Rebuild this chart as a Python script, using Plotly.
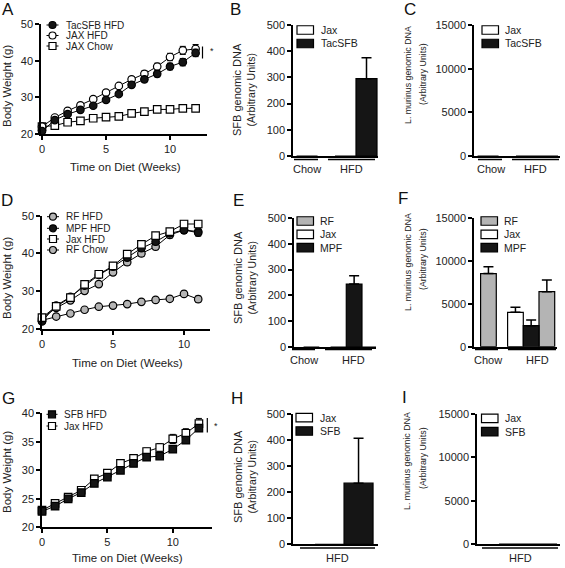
import plotly.graph_objects as go

# ---------------- data ----------------
# Panel A: body weight (g) vs weeks on diet
weeks_A = [0, 1, 2, 3, 4, 5, 6, 7, 8, 9, 10, 11, 12]
A_tacsfb_hfd = [20.8, 23.8, 25.4, 26.6, 27.7, 29.3, 30.9, 33.4, 34.9, 36.4, 38.4, 39.6, 42.1]
A_tacsfb_hfd_err = [0.4, 0.5, 0.5, 0.5, 0.5, 0.6, 0.6, 0.6, 0.7, 0.8, 0.9, 1.0, 1.0]
A_jax_hfd = [22.0, 24.5, 26.3, 27.8, 29.5, 31.3, 33.1, 34.9, 36.4, 38.4, 41.0, 42.8, 43.2]
A_jax_hfd_err = [0.4, 0.5, 0.5, 0.6, 0.6, 0.6, 0.7, 0.7, 0.8, 0.9, 1.0, 1.1, 1.2]
A_jax_chow = [22.0, 22.3, 23.2, 23.6, 24.3, 24.6, 24.8, 25.6, 26.1, 26.7, 26.7, 27.0, 27.0]
A_jax_chow_err = [0.3, 0.3, 0.3, 0.3, 0.3, 0.3, 0.3, 0.3, 0.4, 0.4, 0.4, 0.4, 0.4]
A_names = ["TacSFB HFD", "JAX HFD", "JAX Chow"]

# Panel D
weeks_D = [0, 1, 2, 3, 4, 5, 6, 7, 8, 9, 10, 11]
D_rf_hfd = [22.8, 25.6, 27.6, 30.1, 31.9, 35.0, 37.7, 40.0, 41.8, 44.9, 46.2, 45.8]
D_mpf_hfd = [22.0, 26.2, 28.5, 31.5, 34.3, 36.5, 38.9, 41.4, 43.1, 45.3, 46.2, 45.5]
D_jax_hfd = [23.0, 26.0, 28.3, 31.8, 34.5, 36.7, 39.8, 42.4, 44.7, 45.8, 47.8, 47.8]
D_rf_chow = [22.3, 23.3, 24.1, 25.1, 25.9, 26.2, 26.6, 27.2, 27.7, 28.0, 29.3, 27.9]
D_err_hfd = [0.5, 0.5, 0.6, 0.6, 0.7, 0.7, 0.8, 0.8, 0.8, 0.8, 0.9, 0.9]
D_err_chow = [0.3, 0.3, 0.3, 0.3, 0.4, 0.4, 0.4, 0.4, 0.4, 0.5, 0.7, 0.8]
D_names = ["RF HFD", "MPF HFD", "Jax HFD", "RF Chow"]

# Panel G
weeks_G = [0, 1, 2, 3, 4, 5, 6, 7, 8, 9, 10, 11, 12]
G_sfb_hfd = [22.8, 23.7, 25.0, 26.1, 27.7, 28.8, 30.0, 31.2, 32.3, 32.5, 33.7, 35.3, 37.4]
G_sfb_hfd_err = [0.3, 0.3, 0.3, 0.4, 0.4, 0.4, 0.5, 0.5, 0.5, 0.5, 0.5, 0.6, 0.6]
G_jax_hfd = [23.0, 24.2, 25.3, 26.5, 28.5, 29.5, 31.2, 32.1, 33.3, 34.0, 35.5, 36.5, 38.2]
G_jax_hfd_err = [0.3, 0.3, 0.3, 0.4, 0.4, 0.4, 0.5, 0.5, 0.6, 0.7, 0.8, 0.8, 0.9]
G_names = ["SFB HFD", "Jax HFD"]

# Bar panels: (group, series, value, error)
B_groups = ["Chow", "HFD", "HFD"]
B_series = ["Jax", "Jax", "TacSFB"]
B_values = [0, 0, 295]
B_errors = [0, 0, 80]

C_groups = ["Chow", "HFD", "HFD"]
C_series = ["Jax", "Jax", "TacSFB"]
C_values = [0, 0, 0]
C_errors = [0, 0, 0]

E_groups = ["Chow", "HFD", "HFD", "HFD"]
E_series = ["RF", "Jax", "MPF", "RF"]
E_values = [0, 0, 244, 0]
E_errors = [0, 0, 32, 0]

F_groups = ["Chow", "HFD", "HFD", "HFD"]
F_series = ["RF", "Jax", "MPF", "RF"]
F_values = [8500, 4000, 2440, 6400]
F_errors = [800, 580, 660, 1350]

H_groups = ["HFD", "HFD"]
H_series = ["Jax", "SFB"]
H_values = [0, 235]
H_errors = [0, 173]

I_groups = ["HFD", "HFD"]
I_series = ["Jax", "SFB"]
I_values = [0, 0]
I_errors = [0, 0]

ticks_weight_50 = [20, 30, 40, 50]
ticks_weight_40 = [20, 25, 30, 35, 40]
ticks_weeks = [0, 5, 10]
ticks_sfb = [0, 100, 200, 300, 400, 500]
ticks_lm = [0, 5000, 10000, 15000]

# ---------------- layout helpers ----------------
W, H = 565, 568
FONT = "Liberation Sans, Arial, sans-serif"
TXT = "#222222"
BLACK = "#151515"
GRAY = "#b4b4b4"


def fx(p):
    return p / W


def fy(p):
    return 1 - p / H


fig = go.Figure()
layout = dict(width=W, height=H, margin=dict(l=0, r=0, t=0, b=0, autoexpand=False),
              paper_bgcolor="white", plot_bgcolor="white",
              showlegend=False, barmode="overlay")
shapes = []
annotations = []


def sfx(n):
    return "" if n == 1 else str(n)


def add_axes(n, xpx, ypx, xrange, yrange, ytickvals, xtickvals=None):
    s = sfx(n)
    tf = dict(family=FONT, size=11, color=TXT)
    layout["xaxis" + s] = dict(
        domain=[fx(xpx[0]), fx(xpx[1])], range=xrange, anchor="y" + s,
        automargin=False,
        showline=True, linecolor="black", linewidth=1.5, showgrid=False,
        zeroline=False, ticks="outside" if xtickvals else "",
        tickmode="array",
        tickvals=xtickvals if xtickvals else [],
        ticktext=[str(v) for v in xtickvals] if xtickvals else [],
        showticklabels=bool(xtickvals),
        ticklen=4, tickwidth=1.5, tickcolor="black", tickfont=tf, fixedrange=True)
    layout["yaxis" + s] = dict(
        domain=[fy(ypx[1]), fy(ypx[0])], range=yrange, anchor="x" + s,
        automargin=False,
        showline=True, linecolor="black", linewidth=1.5, showgrid=False,
        zeroline=False, ticks="outside", tickmode="array", tickvals=ytickvals,
        ticktext=[str(v) for v in ytickvals], ticklen=4,
        tickwidth=1.5, tickcolor="black", tickfont=tf, fixedrange=True)


def text(x, y, t, size=11, xanchor="center", angle=0, color=TXT):
    annotations.append(dict(x=fx(x), y=fy(y), xref="paper", yref="paper", text=t,
                            showarrow=False, xanchor=xanchor, yanchor="middle",
                            textangle=angle, font=dict(family=FONT, size=size, color=color)))


def hline(x0, x1, y, w=1.5):
    shapes.append(dict(type="line", xref="paper", yref="paper", x0=fx(x0), x1=fx(x1),
                       y0=fy(y), y1=fy(y), line=dict(color="black", width=w)))


def vline(x, y0, y1, w=1.2):
    shapes.append(dict(type="line", xref="paper", yref="paper", x0=fx(x), x1=fx(x),
                       y0=fy(y0), y1=fy(y1), line=dict(color="black", width=w)))


def marker_shape(cx, cy, kind, fill, r=3.5):
    shapes.append(dict(type=kind, xref="paper", yref="paper",
                       x0=fx(cx - r), x1=fx(cx + r), y0=fy(cy + r), y1=fy(cy - r),
                       fillcolor=fill, line=dict(color="black", width=1.2)))


def box_shape(x0, x1, cy, fill, h=8.5):
    shapes.append(dict(type="rect", xref="paper", yref="paper",
                       x0=fx(x0), x1=fx(x1), y0=fy(cy + h / 2), y1=fy(cy - h / 2),
                       fillcolor=fill, line=dict(color="black", width=1.2)))


def line_series(n, x, y, err, symbol, fill):
    s = sfx(n)
    fig.add_trace(go.Scatter(
        x=x, y=y, mode="lines+markers", xaxis="x" + s, yaxis="y" + s,
        cliponaxis=False,
        line=dict(color="black", width=1),
        marker=dict(symbol=symbol, size=7.5, color=fill, line=dict(color="black", width=1.2)),
        error_y=dict(type="data", array=err, visible=True, color="black", thickness=1, width=3)))


def line_legend(x_line, x_text, rows, names, styles):
    for cy, name, (kind, fill) in zip(rows, names, styles):
        hline(x_line[0], x_line[1], cy, w=1)
        marker_shape((x_line[0] + x_line[1]) / 2, cy, kind, fill)
        text(x_text, cy, name, size=10, xanchor="left")


def bar_panel(n, groups, series, values, errors, slots, colors):
    s = sfx(n)
    order = []
    for name in series:
        if name not in order:
            order.append(name)
    for name in order:
        idx = [i for i, sname in enumerate(series) if sname == name]
        xs = [slots[i] for i in idx]
        ys = [values[i] for i in idx]
        es = [errors[i] for i in idx]
        fig.add_trace(go.Bar(
            x=xs, y=ys, width=1.0, xaxis="x" + s, yaxis="y" + s,
            marker=dict(color=colors[name], line=dict(color="black", width=1.2)),
            error_y=dict(type="data", symmetric=False, array=es, arrayminus=[0] * len(es),
                         visible=any(e > 0 for e in es), color="black", thickness=1.5, width=5)))
    return order


def bar_legend(bx0, bx1, tx, rows, names, colors):
    for cy, name in zip(rows, names):
        box_shape(bx0, bx1, cy, colors[name])
        text(tx, cy, name, size=10.5, xanchor="left")


# ---------------- Panel A ----------------
add_axes(1, (41, 207), (24, 134), [-0.08, 12.89], [20, 50], ticks_weight_50, ticks_weeks)
line_series(1, weeks_A, A_jax_chow, A_jax_chow_err, "square", "white")
line_series(1, weeks_A, A_jax_hfd, A_jax_hfd_err, "circle", "white")
line_series(1, weeks_A, A_tacsfb_hfd, A_tacsfb_hfd_err, "circle", BLACK)
line_legend((46.5, 58.5), 64, [25, 35.5, 46], A_names,
            [("circle", BLACK), ("circle", "white"), ("rect", "white")])
vline(202.5, 46.5, 58.5)
text(207.5, 51, "*", size=9, xanchor="left")
text(125, 167, "Time on Diet (Weeks)", size=11.5)
text(7, 86, "Body Weight (g)", size=11.5, angle=-90)
text(8, 10, "A", size=17, color="#111")

# ---------------- Panel B ----------------
bar_colors_B = {"Jax": "white", "TacSFB": BLACK}
add_axes(2, (293, 378), (25, 156), [0.33, 0.33 + 85 / 21], [0, 500], ticks_sfb)
bar_panel(2, B_groups, B_series, B_values, B_errors, [1, 2.83, 3.83], bar_colors_B)
bar_legend(297, 313.5, 318.5, [30, 43.5], ["Jax", "TacSFB"], bar_colors_B)
hline(294, 318, 159.5)
hline(328, 375, 159.5)
text(307, 169, "Chow")
text(351, 169, "HFD")
text(237, 90, "SFB genomic DNA", size=11, angle=-90)
text(250.5, 90, "(Arbitrary Units)", size=10.5, angle=-90)
text(235, 10, "B", size=17, color="#111")

# ---------------- Panel C ----------------
bar_colors_C = {"Jax": "white", "TacSFB": BLACK}
add_axes(3, (474, 560), (25, 156), [0.33, 0.33 + 86 / 21], [0, 15000], ticks_lm)
bar_panel(3, C_groups, C_series, C_values, C_errors, [1, 2.83, 3.83], bar_colors_C)
bar_legend(482, 498.5, 503, [30, 43.5], ["Jax", "TacSFB"], bar_colors_C)
hline(478, 502, 159.5)
hline(512, 559, 159.5)
text(491, 169, "Chow")
text(535, 169, "HFD")
text(408, 75, "L. murinus genomic DNA", size=8.8, angle=-90)
text(423, 74, "(Arbitrary Units)", size=8.8, angle=-90)
text(410, 10, "C", size=17, color="#111")

# ---------------- Panel D ----------------
add_axes(4, (42, 210), (215.7, 329), [0, 11.83], [20, 50], ticks_weight_50, ticks_weeks)
line_series(4, weeks_D, D_rf_chow, D_err_chow, "circle", GRAY)
line_series(4, weeks_D, D_rf_hfd, D_err_hfd, "circle", GRAY)
line_series(4, weeks_D, D_mpf_hfd, D_err_hfd, "circle", BLACK)
line_series(4, weeks_D, D_jax_hfd, D_err_hfd, "square", "white")
line_legend((47, 59), 64, [216.7, 228.3, 239, 250], D_names,
            [("circle", GRAY), ("circle", BLACK), ("rect", "white"), ("circle", GRAY)])
text(127, 363, "Time on Diet (Weeks)", size=11.5)
text(7, 278, "Body Weight (g)", size=11.5, angle=-90)
text(7, 200, "D", size=17, color="#111")

# ---------------- Panel E ----------------
bar_colors_EF = {"RF": GRAY, "Jax": "white", "MPF": BLACK}
add_axes(5, (294, 376), (218, 347), [-0.11, -0.11 + 82 / 15.7], [0, 500], ticks_sfb)
bar_panel(5, E_groups, E_series, E_values, E_errors, [1, 2.72, 3.72, 4.72], bar_colors_EF)
bar_legend(297, 313.5, 318, [221, 234.3, 247.6], ["RF", "Jax", "MPF"], bar_colors_EF)
hline(292, 315, 349.5)
hline(325, 372, 349.5)
text(304, 360, "Chow")
text(353, 360, "HFD")
text(238, 278, "SFB genomic DNA", size=11, angle=-90)
text(251.5, 278, "(Arbitrary Units)", size=10.5, angle=-90)
text(238, 200, "E", size=17, color="#111")

# ---------------- Panel F ----------------
add_axes(6, (474, 557), (217.7, 346.7), [0.08, 0.08 + 83 / 15.7], [0, 15000], ticks_lm)
bar_panel(6, F_groups, F_series, F_values, F_errors, [1, 2.72, 3.72, 4.72], bar_colors_EF)
bar_legend(481, 497.5, 502, [221, 234.3, 247.6], ["RF", "Jax", "MPF"], bar_colors_EF)
hline(475, 498, 349.5)
hline(508, 556, 349.5)
text(488, 360, "Chow")
text(537, 360, "HFD")
text(408, 262, "L. murinus genomic DNA", size=8.8, angle=-90)
text(423, 259, "(Arbitrary Units)", size=8.8, angle=-90)
text(403, 199, "F", size=17, color="#111")

# ---------------- Panel G ----------------
add_axes(7, (42, 212), (413.3, 527.3), [0, 13], [20, 40], ticks_weight_40, ticks_weeks)
line_series(7, weeks_G, G_jax_hfd, G_jax_hfd_err, "square", "white")
line_series(7, weeks_G, G_sfb_hfd, G_sfb_hfd_err, "square", BLACK)
line_legend((46.5, 57.5), 62, [414.3, 426], G_names, [("rect", BLACK), ("rect", "white")])
vline(207.3, 418, 432.5)
text(212, 426, "*", size=9, xanchor="left")
text(127, 558, "Time on Diet (Weeks)", size=11.5)
text(7, 472, "Body Weight (g)", size=11.5, angle=-90)
text(8, 398, "G", size=17, color="#111")

# ---------------- Panel H ----------------
bar_colors_HI = {"Jax": "white", "SFB": BLACK}
add_axes(8, (293, 378), (414.3, 544.3), [-0.26, -0.26 + 85 / 29], [0, 500], ticks_sfb)
bar_panel(8, H_groups, H_series, H_values, H_errors, [1, 2], bar_colors_HI)
bar_legend(296, 312.5, 317.5, [417.7, 431], ["Jax", "SFB"], bar_colors_HI)
hline(300, 375, 548)
text(337, 558, "HFD")
text(238, 477, "SFB genomic DNA", size=11, angle=-90)
text(251.5, 477, "(Arbitrary Units)", size=10.5, angle=-90)
text(237, 398, "H", size=17, color="#111")

# ---------------- Panel I ----------------
add_axes(9, (477, 560), (414, 544), [-0.26, -0.26 + 83 / 29], [0, 15000], ticks_lm)
bar_panel(9, I_groups, I_series, I_values, I_errors, [1, 2], bar_colors_HI)
bar_legend(481.5, 498, 503, [418.3, 431.7], ["Jax", "SFB"], bar_colors_HI)
hline(482, 558, 548)
text(520, 558, "HFD")
text(407, 461, "L. murinus genomic DNA", size=8.8, angle=-90)
text(423, 458, "(Arbitrary Units)", size=8.8, angle=-90)
text(404, 397, "I", size=17, color="#111")

layout["shapes"] = shapes
layout["annotations"] = annotations
fig.update_layout(**layout)
fig.write_html("out.html", config={"displayModeBar": False},
               post_script="document.body.style.margin='0';document.body.style.overflow='hidden';")
